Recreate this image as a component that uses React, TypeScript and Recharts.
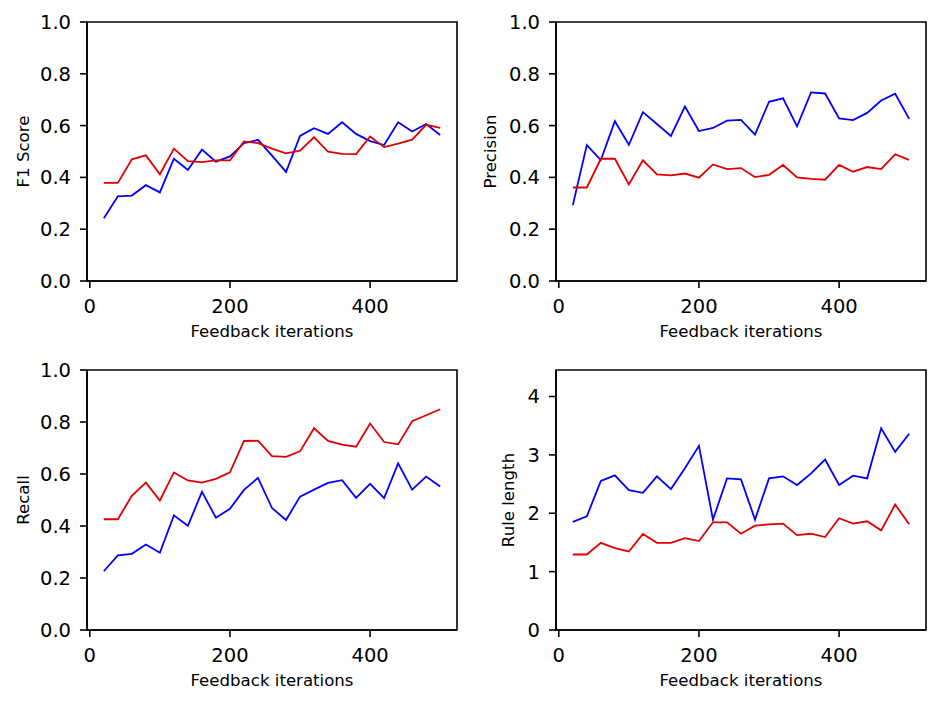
import React from 'react';
import { LineChart, Line, XAxis, YAxis, ReferenceArea } from 'recharts';

const ITERATIONS = [20, 40, 60, 80, 100, 120, 140, 160, 180, 200, 220, 240, 260, 280, 300, 320, 340, 360, 380, 400, 420, 440, 460, 480, 500];

const F1_BLUE = [0.242, 0.327, 0.330, 0.370, 0.342, 0.472, 0.429, 0.507, 0.461, 0.481, 0.532, 0.545, 0.484, 0.421, 0.560, 0.590, 0.568, 0.613, 0.568, 0.540, 0.525, 0.613, 0.577, 0.606, 0.564];
const F1_RED = [0.379, 0.379, 0.470, 0.485, 0.412, 0.511, 0.463, 0.459, 0.466, 0.466, 0.539, 0.532, 0.511, 0.493, 0.503, 0.555, 0.499, 0.491, 0.490, 0.558, 0.517, 0.530, 0.546, 0.603, 0.591];

const PRECISION_BLUE = [0.293, 0.525, 0.467, 0.617, 0.526, 0.652, 0.606, 0.560, 0.674, 0.579, 0.591, 0.619, 0.622, 0.565, 0.692, 0.705, 0.597, 0.728, 0.724, 0.628, 0.621, 0.649, 0.697, 0.723, 0.626];
const PRECISION_RED = [0.361, 0.361, 0.472, 0.472, 0.373, 0.466, 0.412, 0.408, 0.415, 0.399, 0.450, 0.432, 0.436, 0.401, 0.410, 0.448, 0.400, 0.394, 0.391, 0.448, 0.422, 0.440, 0.432, 0.489, 0.468];

const RECALL_BLUE = [0.226, 0.287, 0.293, 0.329, 0.297, 0.441, 0.401, 0.531, 0.432, 0.466, 0.539, 0.585, 0.469, 0.423, 0.513, 0.540, 0.566, 0.576, 0.508, 0.562, 0.507, 0.641, 0.540, 0.590, 0.552];
const RECALL_RED = [0.426, 0.426, 0.516, 0.567, 0.498, 0.606, 0.575, 0.567, 0.581, 0.606, 0.727, 0.728, 0.669, 0.666, 0.687, 0.776, 0.727, 0.713, 0.705, 0.794, 0.723, 0.714, 0.803, 0.826, 0.849];

const RULE_BLUE = [1.851, 1.948, 2.552, 2.649, 2.397, 2.351, 2.632, 2.414, 2.770, 3.155, 1.891, 2.598, 2.580, 1.891, 2.598, 2.632, 2.483, 2.684, 2.920, 2.483, 2.644, 2.598, 3.454, 3.052, 3.362];
const RULE_RED = [1.293, 1.293, 1.494, 1.402, 1.345, 1.644, 1.494, 1.494, 1.575, 1.523, 1.845, 1.845, 1.649, 1.787, 1.810, 1.822, 1.626, 1.649, 1.592, 1.914, 1.822, 1.862, 1.707, 2.149, 1.810];

const X_TICKS = [0, 200, 400];
const UNIT_TICKS = [0, 0.2, 0.4, 0.6, 0.8, 1.0];
const RULE_TICKS = [0, 1, 2, 3, 4];
const X_LABEL = 'Feedback iterations';

const FONT = '"DejaVu Sans", sans-serif';
const TICK_FONT = 19.5;
const LABEL_FONT = 16.6;
const BLUE = '#0000ff';
const RED = '#e00000';

type PanelProps = {
  left: number;
  top: number;
  width: number;
  height: number;
  plotLeft: number;
  plotTop: number;
  plotRight: number;
  plotBottom: number;
  blue: number[];
  red: number[];
  yLabel: string;
  yLabelBaseline: number;
  yDomain: [number, number];
  yTicks: number[];
  yFormat: (v: number) => string;
};

function Panel(p: PanelProps) {
  const data = ITERATIONS.map((x, i) => ({ x, blue: p.blue[i], red: p.red[i] }));
  const yAxisWidth = p.plotLeft - p.left;
  const xAxisHeight = p.top + p.height - p.plotBottom;
  const axisStroke = { stroke: '#000', strokeWidth: 1.6 };
  return (
    <div style={{ position: 'absolute', left: p.left, top: p.top, width: p.width, height: p.height }}>
      <LineChart
        width={p.width}
        height={p.height}
        data={data}
        margin={{ top: p.plotTop - p.top, right: p.left + p.width - p.plotRight, bottom: 0, left: 0 }}
      >
        <XAxis
          dataKey="x"
          type="number"
          domain={[-4, 524]}
          ticks={X_TICKS}
          allowDataOverflow
          height={xAxisHeight}
          axisLine={axisStroke}
          tickLine={axisStroke}
          tickSize={7}
          tickMargin={11}
          tick={{ fill: '#000', fontSize: TICK_FONT, fontFamily: FONT }}
          label={{
            content: (props: any) => {
              const vb = props.viewBox || {};
              return (
                <text
                  x={vb.x + vb.width / 2}
                  y={vb.y + 56}
                  textAnchor="middle"
                  fontSize={LABEL_FONT}
                  fontFamily={FONT}
                  fill="#000"
                >
                  {X_LABEL}
                </text>
              );
            },
          }}
        />
        <YAxis
          type="number"
          domain={p.yDomain}
          ticks={p.yTicks}
          allowDataOverflow
          width={yAxisWidth}
          axisLine={axisStroke}
          tickLine={axisStroke}
          tickSize={7}
          tickMargin={9}
          tickFormatter={p.yFormat}
          tick={{ fill: '#000', fontSize: TICK_FONT, fontFamily: FONT }}
          label={{
            content: (props: any) => {
              const vb = props.viewBox || {};
              const cx = p.yLabelBaseline - p.left;
              const cy = vb.y + vb.height / 2;
              return (
                <text
                  x={cx}
                  y={cy}
                  transform={`rotate(-90 ${cx} ${cy})`}
                  textAnchor="middle"
                  fontSize={LABEL_FONT}
                  fontFamily={FONT}
                  fill="#000"
                >
                  {p.yLabel}
                </text>
              );
            },
          }}
        />
        <ReferenceArea
          x1={-4}
          x2={524}
          y1={p.yDomain[0]}
          y2={p.yDomain[1]}
          fill="none"
          fillOpacity={0}
          stroke="#000"
          strokeWidth={1.6}
          ifOverflow="visible"
        />
        <Line type="linear" dataKey="blue" stroke={BLUE} strokeWidth={1.8} dot={false} isAnimationActive={false} />
        <Line type="linear" dataKey="red" stroke={RED} strokeWidth={1.8} dot={false} isAnimationActive={false} />
      </LineChart>
    </div>
  );
}

const fmt1 = (v: number) => v.toFixed(1);
const fmt0 = (v: number) => String(v);

export default function App() {
  return (
    <div style={{ position: 'absolute', left: 0, top: 0, width: 948, height: 704, background: '#fff' }}>
      <Panel
        left={0} top={0} width={474} height={352}
        plotLeft={87} plotTop={22} plotRight={457} plotBottom={281}
        blue={F1_BLUE} red={F1_RED}
        yLabel="F1 Score" yLabelBaseline={29}
        yDomain={[0, 1]} yTicks={UNIT_TICKS} yFormat={fmt1}
      />
      <Panel
        left={474} top={0} width={474} height={352}
        plotLeft={556} plotTop={22} plotRight={926} plotBottom={281}
        blue={PRECISION_BLUE} red={PRECISION_RED}
        yLabel="Precision" yLabelBaseline={496}
        yDomain={[0, 1]} yTicks={UNIT_TICKS} yFormat={fmt1}
      />
      <Panel
        left={0} top={352} width={474} height={352}
        plotLeft={87} plotTop={370} plotRight={457} plotBottom={630}
        blue={RECALL_BLUE} red={RECALL_RED}
        yLabel="Recall" yLabelBaseline={29}
        yDomain={[0, 1]} yTicks={UNIT_TICKS} yFormat={fmt1}
      />
      <Panel
        left={474} top={352} width={474} height={352}
        plotLeft={556} plotTop={370} plotRight={926} plotBottom={630}
        blue={RULE_BLUE} red={RULE_RED}
        yLabel="Rule length" yLabelBaseline={514}
        yDomain={[0, 4.454]} yTicks={RULE_TICKS} yFormat={fmt0}
      />
    </div>
  );
}
